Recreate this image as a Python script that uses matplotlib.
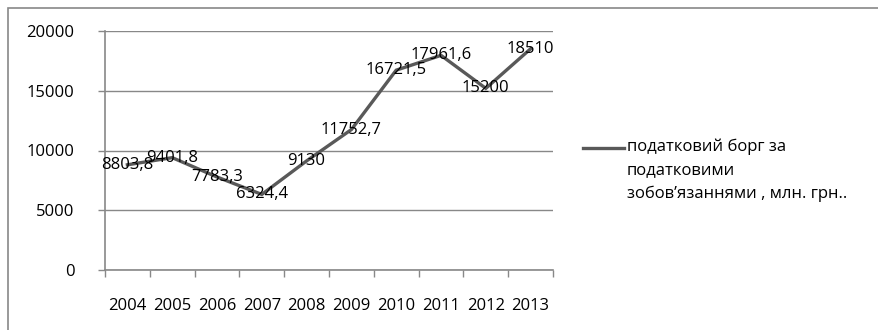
import matplotlib.pyplot as plt
from matplotlib.lines import Line2D
from matplotlib.patches import Rectangle

years = ["2004", "2005", "2006", "2007", "2008", "2009", "2010", "2011", "2012", "2013"]
debt = [8803.8, 9401.8, 7783.3, 6324.4, 9130, 11752.7, 16721.5, 17961.6, 15200, 18510]
series_name = "податковий борг за\nподатковими\nзобов’язаннями , млн. грн.."

plt.rcParams["font.family"] = ["Open Sans", "DejaVu Sans"]
grid_col = "#888888"
line_col = "#595959"
fs = 12

W, H = 879, 330
fig = plt.figure(figsize=(W / 100, H / 100), dpi=100)
ax = fig.add_axes([105 / W, 60 / H, 448 / W, 239 / H])

x = list(range(len(years)))
ax.plot(x, debt, color=line_col, lw=2.4, solid_joinstyle="miter", zorder=3)
for xi, v in zip(x, debt):
    txt = f"{v:g}".replace(".", ",")
    ax.text(xi, v, txt, ha="center", va="center", fontsize=fs, zorder=4)

ax.set_xlim(-0.5, len(years) - 0.5)
ax.set_ylim(0, 20000)
ax.set_yticks(range(0, 20001, 5000))
ax.yaxis.grid(True, color=grid_col, lw=1)
ax.set_axisbelow(True)

ax.set_xticks(x)
ax.set_xticklabels(years)
ax.set_xticks([i - 0.5 for i in range(len(years) + 1)], minor=True)
ax.tick_params(axis="x", which="major", length=0, pad=20, labelsize=fs)
ax.tick_params(axis="x", which="minor", length=5, color=grid_col, width=1)
ax.tick_params(axis="y", length=5, color=grid_col, width=1, pad=17, labelsize=fs)

for side in ("top", "right"):
    ax.spines[side].set_visible(False)
for side in ("left", "bottom"):
    ax.spines[side].set_color(grid_col)
    ax.spines[side].set_linewidth(1.2)

# legend drawn by hand so the key sits on the first text line
fig.add_artist(Line2D([583 / W, 624 / W], [1 - 148 / H] * 2, color=line_col, lw=2.4))
fig.text(627 / W, 1 - 139 / H, series_name, ha="left", va="top", fontsize=fs,
         linespacing=1.58)

# chart frame, cut off at right and bottom
fig.add_artist(Rectangle((8 / W, -0.1), 1.2, 1.1 - 8 / H, fill=False,
                         edgecolor=grid_col, lw=1.2, transform=fig.transFigure))

fig.savefig("out.png", dpi=100)
